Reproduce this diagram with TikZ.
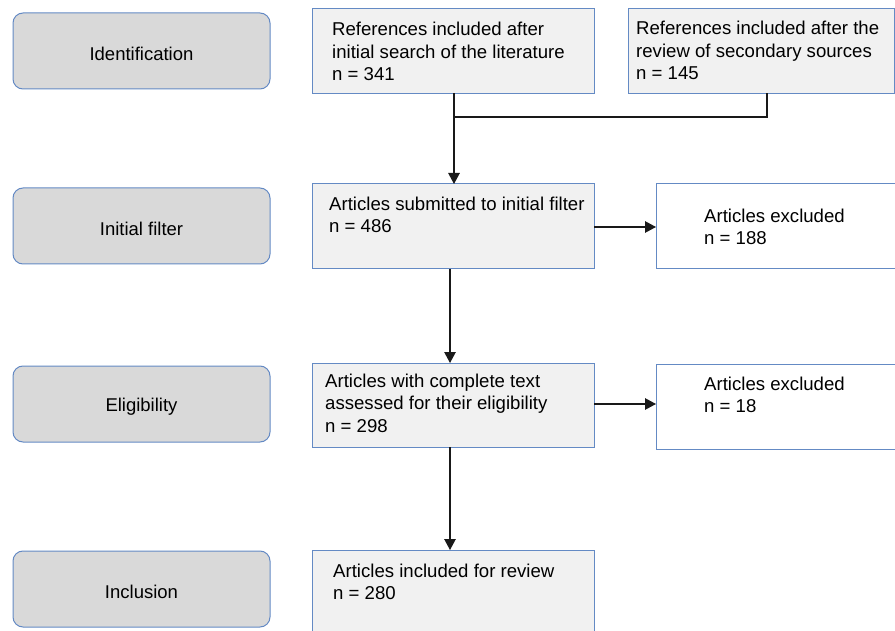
\documentclass[tikz,border=0pt]{standalone}
\usepackage{fontspec}
\setmainfont{Liberation Sans}
\usetikzlibrary{arrows.meta}
\definecolor{bord}{RGB}{100,138,196}
\definecolor{stagefill}{RGB}{217,217,217}
\definecolor{boxfill}{RGB}{241,241,241}
\definecolor{linecol}{RGB}{25,25,25}
\newcommand{\stagetext}[1]{\raisebox{-2.5pt}[\height][\depth]{#1}}
\begin{document}
\begin{tikzpicture}[x=1pt,y=-1pt,
  stage/.style={draw=bord, fill=stagefill, rounded corners=10pt, line width=1pt,
    minimum width=257pt, minimum height=76pt, inner sep=0pt, outer sep=0pt,
    anchor=north west, font=\fontsize{18.5}{22.5}\selectfont},
  greybox/.style={draw=bord, fill=boxfill, line width=1pt, inner sep=0pt, outer sep=0pt, anchor=north west},
  whitebox/.style={draw=bord, fill=white, line width=1pt, inner sep=0pt, outer sep=0pt, anchor=north west},
  txt/.style={anchor=north west, inner sep=0pt, align=left, font=\fontsize{18.6}{22.5}\selectfont},
  conn/.style={draw=linecol, line width=1.2pt},
  arr/.style={conn, -{Triangle[length=11pt,width=11.5pt]}}
]
\useasboundingbox (0,0) rectangle (895,631);
\clip (0,0) rectangle (895,631);

% stage labels
\node[stage] (s1) at (13,13) {\stagetext{Identification}};
\node[stage] (s2) at (13,188) {\stagetext{Initial filter}};
\node[stage] (s3) at (13,366) {\stagetext{Eligibility}};
\node[stage] (s4) at (13,551) {\stagetext{Inclusion}};

% boxes
\node[greybox, minimum width=282pt, minimum height=85pt] (b1) at (312,8.5) {};
\node[greybox, minimum width=266pt, minimum height=85pt] (b2) at (628,8.5) {};
\node[greybox, minimum width=282pt, minimum height=85pt] (b3) at (312,184) {};
\node[whitebox, minimum width=260pt, minimum height=85pt] (e1) at (656,184) {};
\node[greybox, minimum width=282pt, minimum height=84pt] (b4) at (312,363) {};
\node[whitebox, minimum width=260pt, minimum height=85pt] (e2) at (656,364) {};
\node[greybox, minimum width=282pt, minimum height=95pt] (b5) at (312,550) {};

% texts
\node[txt] (t1) at (332,22) {References included after\\initial search of the literature\\n = 341};
\node[txt] (t2) at (636,21) {References included after the\\review of secondary sources\\n = 145};
\node[txt] (t3) at (329,196.6) {Articles submitted to initial filter\\n = 486};
\node[txt] (t4) at (704,208.6) {Articles excluded\\n = 188};
\node[txt] (t5) at (325,373.6) {Articles with complete text\\assessed for their eligibility\\n = 298};
\node[txt] (t6) at (704,376.6) {Articles excluded\\n = 18};
\node[txt] (t7) at (333,563.6) {Articles included for review\\n = 280};

% connectors
\coordinate (j1) at (454,117);
\coordinate (j2) at (767,117);
\coordinate (v) at (450,0);
\coordinate (h1) at (0,227);
\coordinate (h2) at (0,404);
\draw[conn] (b1.south -| j1) -- (j1) -- (j2) -- (b2.south -| j2);
\draw[arr] (j1) -- (b3.north -| j1);
\draw[arr] (b3.east |- h1) -- (e1.west |- h1);
\draw[arr] (b3.south -| v) -- (b4.north -| v);
\draw[arr] (b4.east |- h2) -- (e2.west |- h2);
\draw[arr] (b4.south -| v) -- (b5.north -| v);
\end{tikzpicture}
\end{document}
